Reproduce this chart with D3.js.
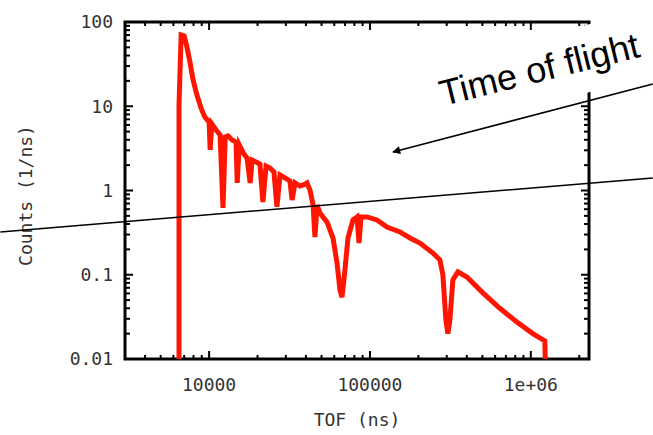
<!DOCTYPE html>
<html>
<head>
<meta charset="utf-8">
<script src="https://cdn.jsdelivr.net/npm/d3@7"></script>
<style>
  body { margin: 0; background: #fff; }
  svg { display: block; }
  .tick-label { font-family: "DejaVu Sans Mono", monospace; font-size: 18px; fill: #333; }
</style>
</head>
<body>
<div id="chart"></div>
<script>
/* CONSTANTS AND GLOBALS */
const width = 653,
  height = 435,
  margin = {top: 22, bottom: 76, left: 125, right: 64};

// TOF (ns) and counts (1/ns)
const tof = [6500, 6500, 6700, 7000, 7300, 7600, 7950, 8400, 8900, 9400, 10000,
  10150, 10400, 11050, 11700, 12200, 12600, 13100, 13900, 14700, 14950, 15400,
  16300, 17200, 18000, 18500, 19600, 20700, 21600, 22600, 23900, 25300, 26400,
  27600, 29600, 31800, 32800, 34200, 36700, 39500, 40600, 42400, 44300, 45500,
  46900, 48900, 54100, 58900, 62400, 65100, 67000, 69900, 73000, 78400, 83100,
  85500, 88000, 95800, 110500, 127500, 153600, 177200, 204400, 246200, 272200,
  284100, 296500, 305100, 314000, 327700, 352100, 400500, 503300, 641800,
  818500, 1029000, 1222000, 1240000];
const counts = [0.005, 10.35, 70.1, 68.2, 49.1, 33.5, 20.5, 13.6, 9.53, 7.45, 6.5,
  3.03, 6.16, 5.23, 4.56, 0.62, 4.32, 4.44, 3.98, 3.76, 1.23, 3.47,
  2.79, 2.43, 1.23, 2.3, 2.18, 2.06, 0.73, 1.95, 1.85, 1.66, 0.64,
  1.53, 1.41, 1.3, 0.77, 1.23, 1.13, 1.19, 1.23, 1.01, 0.67, 0.28,
  0.67, 0.54, 0.42, 0.273, 0.138, 0.066, 0.054, 0.114, 0.273, 0.447, 0.485,
  0.238, 0.485, 0.485, 0.447, 0.369, 0.322, 0.273, 0.238, 0.181, 0.15,
  0.099, 0.029, 0.02, 0.029, 0.087, 0.108, 0.094, 0.061, 0.04,
  0.0275, 0.02, 0.0164, 0.005];

const yTicks = [0.01, 0.1, 1, 10, 100];
const yTickLabels = ["0.01", "0.1", "1", "10", "100"];
const xTicks = [10000, 100000, 1000000];
const xTickLabels = ["10000", "100000", "1e+06"];

// overlay annotation (data coordinates, extended past the frame)
const arrowFrom = [5.73e6, 18.4], arrowTo = [139000, 2.86];
const crossLine = [[504, 0.322], [5.73e6, 1.406]];
const noteText = "Time of flight", notePos = [284000, 10.07], noteAngle = -14;

const data = tof.map((t, i) => ({t, c: counts[i]}));

/* SCALES */
const xScale = d3.scaleLog()
  .domain([3000, 2.3e6])
  .range([margin.left, width - margin.right]);
const yScale = d3.scaleLog()
  .domain([0.01, 100])
  .range([height - margin.bottom, margin.top]);

const svg = d3.select("#chart").append("svg")
  .attr("width", width)
  .attr("height", height);

svg.append("clipPath").attr("id", "plot-clip")
  .append("rect")
  .attr("x", margin.left).attr("y", margin.top)
  .attr("width", width - margin.left - margin.right)
  .attr("height", height - margin.top - margin.bottom);

// minor ticks for each decade
const minorY = [];
[0.01, 0.1, 1, 10].forEach(d => { for (let k = 2; k <= 9; k++) minorY.push(d * k); });
const minorX = [];
[1000, 10000, 100000, 1000000].forEach(d => { for (let k = 2; k <= 9; k++) minorX.push(d * k); });
const minorXIn = minorX.filter(v => v >= 3000 && v <= 2.3e6 && !xTicks.includes(v));

const x0 = margin.left, x1 = width - margin.right;
const y0 = height - margin.bottom, y1 = margin.top;
const ticks = svg.append("g").attr("stroke", "#000").attr("stroke-width", 2);

// y ticks on left and right
yTicks.forEach(v => {
  ticks.append("line").attr("x1", x0).attr("x2", x0 + 8).attr("y1", yScale(v)).attr("y2", yScale(v));
  ticks.append("line").attr("x1", x1).attr("x2", x1 - 8).attr("y1", yScale(v)).attr("y2", yScale(v));
});
minorY.forEach(v => {
  ticks.append("line").attr("x1", x0).attr("x2", x0 + 5).attr("y1", yScale(v)).attr("y2", yScale(v));
  ticks.append("line").attr("x1", x1).attr("x2", x1 - 5).attr("y1", yScale(v)).attr("y2", yScale(v));
});
// x ticks on bottom and top
xTicks.forEach(v => {
  ticks.append("line").attr("y1", y0).attr("y2", y0 - 8).attr("x1", xScale(v)).attr("x2", xScale(v));
  ticks.append("line").attr("y1", y1).attr("y2", y1 + 8).attr("x1", xScale(v)).attr("x2", xScale(v));
});
minorXIn.forEach(v => {
  ticks.append("line").attr("y1", y0).attr("y2", y0 - 4).attr("x1", xScale(v)).attr("x2", xScale(v));
  ticks.append("line").attr("y1", y1).attr("y2", y1 + 4).attr("x1", xScale(v)).attr("x2", xScale(v));
});

// frame
svg.append("rect")
  .attr("x", x0).attr("y", y1)
  .attr("width", x1 - x0).attr("height", y0 - y1)
  .attr("fill", "none").attr("stroke", "#000").attr("stroke-width", 3);

// tick labels
svg.selectAll(".ylab").data(yTicks).join("text")
  .attr("class", "tick-label")
  .attr("x", x0 - 12)
  .attr("y", d => yScale(d))
  .attr("dy", "0.35em")
  .attr("text-anchor", "end")
  .text((d, i) => yTickLabels[i]);

svg.selectAll(".xlab").data(xTicks).join("text")
  .attr("class", "tick-label")
  .attr("x", d => xScale(d))
  .attr("y", y0 + 32)
  .attr("text-anchor", "middle")
  .text((d, i) => xTickLabels[i]);

// axis titles
svg.append("text").attr("class", "tick-label")
  .attr("x", (x0 + x1) / 2).attr("y", y0 + 67)
  .attr("text-anchor", "middle")
  .text("TOF (ns)");

svg.append("text").attr("class", "tick-label")
  .attr("transform", `translate(32,${(y0 + y1) / 2 + 5}) rotate(-90)`)
  .attr("text-anchor", "middle")
  .text("Counts (1/ns)");

// the curve
const lineGen = d3.line()
  .x(d => xScale(d.t))
  .y(d => yScale(d.c));

svg.append("path")
  .datum(data)
  .attr("clip-path", "url(#plot-clip)")
  .attr("fill", "none")
  .attr("stroke", "#ff1500")
  .attr("stroke-width", 5)
  .attr("stroke-linejoin", "miter")
  .attr("d", lineGen);

// overlay note: white text box, arrow and straight line
const note = svg.append("g")
  .attr("transform", `translate(${xScale(notePos[0])},${yScale(notePos[1])}) rotate(${noteAngle})`);
note.append("rect")
  .attr("x", -8).attr("y", -44)
  .attr("width", 250).attr("height", 66)
  .attr("fill", "#fff");
note.append("text")
  .attr("font-family", "Liberation Sans, Arial, sans-serif")
  .attr("font-size", 36)
  .attr("fill", "#000")
  .text(noteText);

svg.append("defs").append("marker")
  .attr("id", "head")
  .attr("viewBox", "0 0 10 10")
  .attr("refX", 9).attr("refY", 5)
  .attr("markerWidth", 10).attr("markerHeight", 8)
  .attr("markerUnits", "userSpaceOnUse")
  .attr("orient", "auto")
  .append("path").attr("d", "M0,0L10,5L0,10Z").attr("fill", "#000");

svg.append("line")
  .attr("x1", xScale(arrowFrom[0])).attr("y1", yScale(arrowFrom[1]))
  .attr("x2", xScale(arrowTo[0])).attr("y2", yScale(arrowTo[1]))
  .attr("stroke", "#000").attr("stroke-width", 1.5)
  .attr("marker-end", "url(#head)");

svg.append("line")
  .attr("x1", xScale(crossLine[0][0])).attr("y1", yScale(crossLine[0][1]))
  .attr("x2", xScale(crossLine[1][0])).attr("y2", yScale(crossLine[1][1]))
  .attr("stroke", "#000").attr("stroke-width", 1.5);
</script>
</body>
</html>
